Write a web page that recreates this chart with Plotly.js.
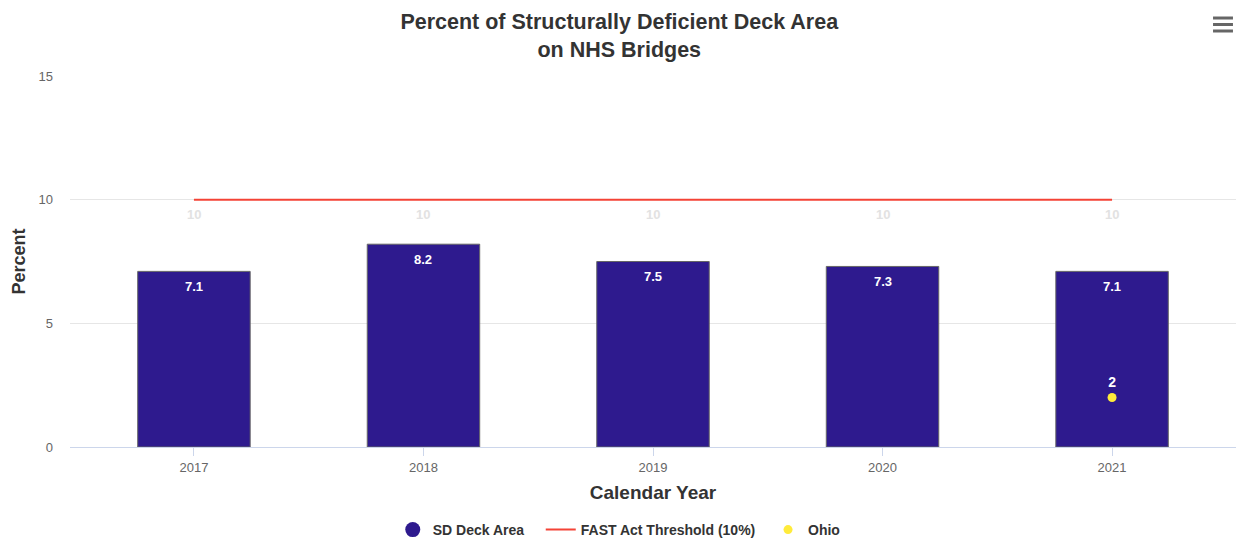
<!DOCTYPE html>
<html>
<head>
<meta charset="utf-8">
<script src="https://cdn.plot.ly/plotly-3.0.1.min.js"></script>
<style>html,body{margin:0;padding:0;background:#fff}#chart{width:1246px;height:540px}</style>
</head>
<body>
<div id="chart"></div>
<script>
const years = ["2017", "2018", "2019", "2020", "2021"];
const sdDeckArea = [7.1, 8.2, 7.5, 7.3, 7.1];
const threshold = [10, 10, 10, 10, 10];
const ohioYears = ["2021"];
const ohioValues = [2];
const yTicks = [0, 5, 10, 15];

const FONT = '"Liberation Sans", Arial, Helvetica, sans-serif';
const BAR = '#2e1a8e';
const RED = '#f44336';
const YEL = '#ffeb3b';
const NB = '\u00a0';

const traces = [
  {
    type: 'bar', x: years, y: sdDeckArea, name: 'SD Deck Area', showlegend: false,
    marker: {color: BAR, line: {color: '#666666', width: 1}},
    width: 0.49, hoverinfo: 'x+y'
  },
  {
    type: 'scatter', mode: 'lines', x: years, y: threshold, name: 'FAST Act Threshold (10%)',
    line: {color: RED, width: 2}, showlegend: false
  },
  {
    type: 'scatter', mode: 'markers+text', x: ohioYears, y: ohioValues, name: 'Ohio',
    marker: {color: YEL, size: 9}, text: ohioValues.map(String), textposition: 'top center',
    textfont: {family: FONT, size: 14, color: '#ffffff', weight: 'bold'}, showlegend: false
  },
  // legend proxies
  {type: 'scatter', mode: 'markers', x: [null], y: [null], name: 'SD Deck Area' + NB.repeat(3),
   marker: {color: BAR, size: 15, symbol: 'circle'}},
  {type: 'scatter', mode: 'lines', x: [null], y: [null], name: 'FAST Act Threshold (10%)' + NB.repeat(2),
   line: {color: RED, width: 2}},
  {type: 'scatter', mode: 'markers', x: [null], y: [null], name: 'Ohio',
   marker: {color: YEL, size: 9, symbol: 'circle'}}
];

const annotations = [];
years.forEach((yr, i) => {
  annotations.push({
    x: i, y: sdDeckArea[i], xref: 'x', yref: 'y', text: String(sdDeckArea[i]),
    showarrow: false, yshift: -15,
    font: {family: FONT, size: 13, color: '#ffffff', weight: 'bold'}
  });
  annotations.push({
    x: i, y: threshold[i], xref: 'x', yref: 'y', text: String(threshold[i]),
    showarrow: false, yshift: -15,
    font: {family: FONT, size: 13, color: '#e2e2e2', weight: 'bold'}
  });
});

const menuLines = [1.1563, 1.1388, 1.1213].map(yy => ({
  type: 'line', xref: 'paper', yref: 'paper', x0: 0.9803, x1: 0.9974, y0: yy, y1: yy,
  line: {color: '#666666', width: 3}
}));

const layout = {
  width: 1246, height: 540,
  margin: {l: 70, r: 10, t: 76, b: 93},
  paper_bgcolor: '#ffffff', plot_bgcolor: '#ffffff',
  font: {family: FONT, color: '#666666', size: 13},
  title: {
    text: '<b>Percent of Structurally Deficient Deck Area<br>on NHS Bridges</b>',
    x: 0.497, xanchor: 'center', yref: 'container', y: 0.946, yanchor: 'middle',
    font: {family: FONT, size: 21.5, color: '#333333'}
  },
  xaxis: {
    type: 'category', range: [-0.54, 4.54], fixedrange: true,
    showgrid: false, zeroline: false,
    showline: true, linecolor: '#ccd6eb', linewidth: 1,
    ticks: 'outside', ticklen: 8, tickcolor: '#ccd6eb',
    tickfont: {family: FONT, size: 13, color: '#666666'},
    automargin: false,
    title: {text: '<b>Calendar Year</b>', standoff: 12, font: {family: FONT, size: 19, color: '#333333'}}
  },
  yaxis: {
    range: [0, 15], tickvals: yTicks, ticktext: yTicks.map(String),
    showgrid: true, gridcolor: '#e6e6e6', gridwidth: 1, zeroline: false, showline: false,
    ticks: '', ticklabelstandoff: 16, automargin: false,
    tickfont: {family: FONT, size: 13, color: '#666666'},
    title: {text: '<b>Percent</b>', standoff: 8, font: {family: FONT, size: 18, color: '#333333'}}
  },
  showlegend: true,
  legend: {
    orientation: 'h', xref: 'container', x: 0.497, xanchor: 'center',
    yref: 'container', y: 0.0185, yanchor: 'middle',
    font: {family: FONT, size: 14, color: '#333333', weight: 'bold'},
    itemwidth: 30, tracegroupgap: 0
  },
  annotations: annotations,
  shapes: menuLines
};

Plotly.newPlot('chart', traces, layout, {displayModeBar: false});
</script>
</body>
</html>
